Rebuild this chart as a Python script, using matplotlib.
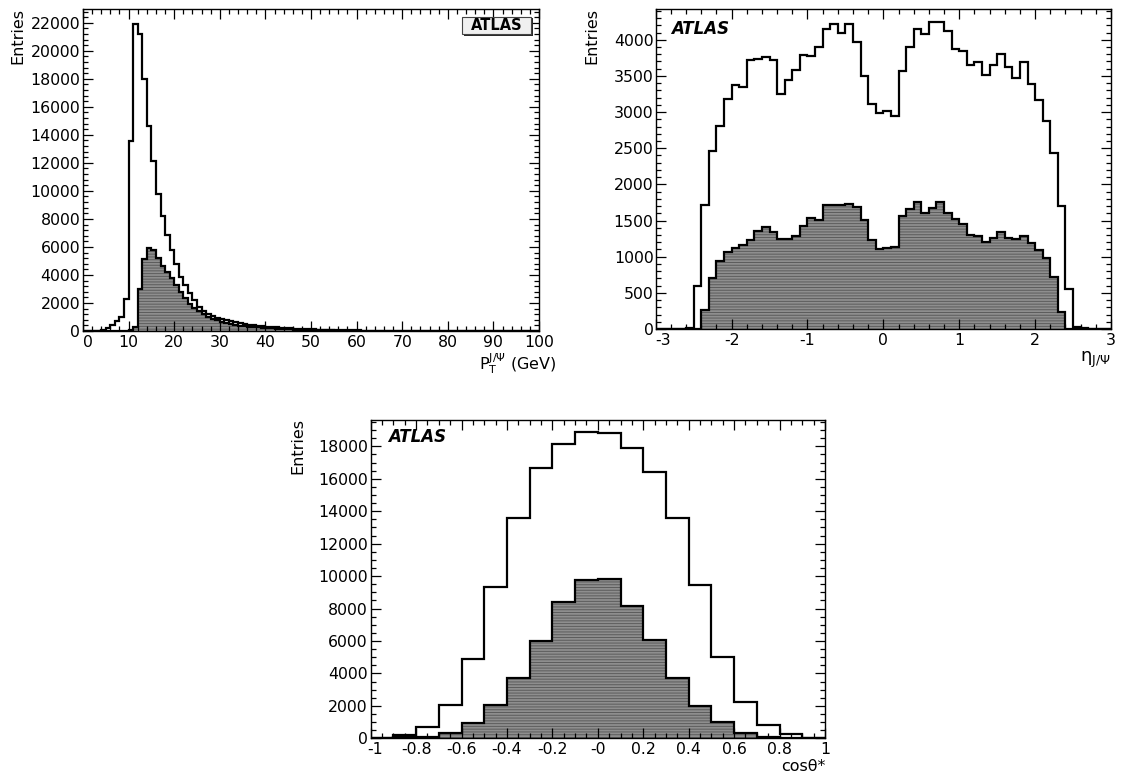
import numpy as np
import matplotlib
matplotlib.use("Agg")
import matplotlib.pyplot as plt
from matplotlib.ticker import MultipleLocator, FixedLocator, FixedFormatter
from matplotlib.patches import Rectangle
from matplotlib.transforms import ScaledTranslation

plt.rcParams['font.family'] = ['DejaVu Sans']
plt.rcParams['mathtext.fontset'] = 'dejavusans'
plt.rcParams['axes.unicode_minus'] = False
plt.rcParams['hatch.linewidth'] = 0.7

# ---------------- data ----------------
# Panel 1: J/psi transverse momentum, 1 GeV bins from 0 to 100
pt_range = (0, 100)
pt_all = [0, 0, 0, 0, 60, 190, 430, 714, 976, 2285,
          13570, 21900, 21230, 18000, 14660, 12140, 9800, 8200, 6850, 5780,
          4800, 3880, 3250, 2740, 2180, 1700, 1450, 1200, 1100, 950,
          850, 760, 680, 610, 550, 500, 450, 410, 370, 340,
          310, 280, 255, 230, 210, 190, 170, 155, 140, 125,
          110, 100, 90, 80, 72, 64, 57, 51, 46, 41,
          37, 33, 30, 27, 24, 22, 20, 18, 16, 14,
          13, 12, 11, 10, 9, 8, 7, 7, 6, 6,
          5, 5, 4, 4, 4, 3, 3, 3, 2, 2,
          2, 2, 2, 1, 1, 1, 1, 1, 1, 1]
pt_sel = [0, 0, 0, 0, 0, 0, 0, 0, 0, 0,
          40, 300, 3000, 5150, 5900, 5800, 5190, 4670, 4200, 3800,
          3250, 2780, 2350, 1950, 1640, 1400, 1180, 1000, 870, 750,
          640, 560, 500, 440, 390, 350, 310, 280, 250, 225,
          200, 180, 160, 145, 130, 115, 100, 90, 80, 72,
          64, 57, 50, 45, 40, 35, 31, 27, 24, 21,
          19, 17, 15, 13, 12, 10, 9, 8, 7, 6,
          5, 5, 4, 4, 3, 3, 3, 2, 2, 2,
          2, 1, 1, 1, 1, 1, 1, 1, 1, 1,
          1, 0, 0, 0, 0, 0, 0, 0, 0, 0]

# Panel 2: J/psi pseudorapidity, 0.1 bins from -3 to 3
eta_range = (-3, 3)
eta_all = [0, 0, 0, 5, 15, 593, 1713, 2468, 2801, 3185,
           3370, 3352, 3722, 3736, 3759, 3722, 3250, 3449, 3579, 3796,
           3782, 3898, 4153, 4222, 4097, 4222, 3968, 3505, 3111, 2982,
           3009, 2949, 3574, 3898, 4144, 4084, 4246, 4250, 4116, 3866,
           3852, 3658, 3699, 3510, 3648, 3806, 3621, 3468, 3695, 3389,
           3172, 2871, 2440, 1699, 551, 23, 10, 0, 0, 0]
eta_sel = [0, 0, 0, 0, 0, 0, 269, 704, 940, 1065,
           1120, 1167, 1227, 1352, 1412, 1343, 1245, 1245, 1292, 1421,
           1532, 1505, 1718, 1718, 1713, 1727, 1694, 1505, 1227, 1111,
           1116, 1134, 1560, 1662, 1750, 1611, 1676, 1750, 1611, 1528,
           1458, 1306, 1287, 1204, 1259, 1347, 1264, 1245, 1282, 1190,
           1097, 982, 718, 232, 0, 0, 0, 0, 0, 0]

# Panel 3: cos(theta*), 0.1 bins from -1 to 1
cos_range = (-1, 1)
cos_all = [30, 205, 720, 2055, 4910, 9350, 13580, 16690, 18130, 18890,
           18820, 17900, 16440, 13560, 9450, 5010, 2220, 800, 247, 0]
cos_sel = [0, 60, 100, 350, 966, 2055, 3700, 6020, 8400, 9780,
           9820, 8160, 6060, 3740, 2010, 986, 350, 100, 40, 0]
cos_ticks = [-1, -0.8, -0.6, -0.4, -0.2, 0, 0.2, 0.4, 0.6, 0.8, 1]
cos_ticklabels = ['-1', '-0.8', '-0.6', '-0.4', '-0.2', '-0', '0.2', '0.4', '0.6', '0.8', '1']

# ---------------- figure ----------------
W, H = 1123, 781
fig = plt.figure(figsize=(W / 100, H / 100), dpi=100)


def axes_px(left, top, right, bottom):
    return fig.add_axes([left / W, 1 - bottom / H, (right - left) / W, (bottom - top) / H])


FS = 11.3
FILL = '#8e8e8e'
HATCH = '#5c5c5c'


def draw(ax, rng, all_vals, sel_vals):
    e1 = np.linspace(rng[0], rng[1], len(all_vals) + 1)
    e2 = np.linspace(rng[0], rng[1], len(sel_vals) + 1)
    ax.stairs(sel_vals, e2, fill=True, facecolor=FILL, edgecolor=HATCH,
              hatch='------', linewidth=0, zorder=1)
    ax.stairs(all_vals, e1, color='black', linewidth=1.6, baseline=0, zorder=2)
    ax.stairs(sel_vals, e2, color='black', linewidth=1.6, baseline=0, zorder=3)


def style(ax, xmaj, xmin, ymaj, ymin, ypad=2.0):
    ax.xaxis.set_major_locator(MultipleLocator(xmaj))
    ax.xaxis.set_minor_locator(MultipleLocator(xmin))
    ax.yaxis.set_major_locator(MultipleLocator(ymaj))
    ax.yaxis.set_minor_locator(MultipleLocator(ymin))
    ax.tick_params(which='both', direction='in', top=True, right=True,
                   width=0.9, labelsize=FS)
    ax.tick_params(which='major', length=7.5)
    ax.tick_params(which='minor', length=3.8)
    ax.tick_params(axis='y', pad=ypad)
    ax.tick_params(axis='x', pad=3.0)
    for s in ax.spines.values():
        s.set_linewidth(1.0)


def nudge_first_xlabel(ax, dx_px):
    locs = np.asarray(ax.xaxis.get_majorticklocs())
    idx = int(np.argmin(np.abs(locs - ax.get_xlim()[0])))
    t = ax.xaxis.get_major_ticks()[idx].label1
    t.set_transform(t.get_transform() + ScaledTranslation(dx_px / 100, 0, fig.dpi_scale_trans))


# Panel 1
ax1 = axes_px(83, 9, 539, 331)
draw(ax1, pt_range, pt_all, pt_sel)
ax1.set_xlim(*pt_range)
ax1.set_ylim(0, 22980)
style(ax1, 10, 2, 2000, 400)
nudge_first_xlabel(ax1, 5)
fig.text(18.3 / W, 1 - 8.5 / H, 'Entries', rotation=90, ha='center', va='top', fontsize=11.5)
fig.text(557 / W, 1 - 369 / H, r'$\mathrm{P}_{\mathrm{T}}^{\mathrm{J/\Psi}}$ (GeV)',
         ha='right', va='baseline', fontsize=11.5)
# ATLAS box (top right)
bx0, by0, bx1, by1 = 461.5, 16.5, 531, 34
fig.add_artist(Rectangle((bx0 / W + 2 / W, 1 - by1 / H - 2 / H), (bx1 - bx0) / W, (by1 - by0) / H,
                         transform=fig.transFigure, facecolor='#2a2a2a', edgecolor='none', zorder=5))
fig.add_artist(Rectangle((bx0 / W, 1 - by1 / H), (bx1 - bx0) / W, (by1 - by0) / H,
                         transform=fig.transFigure, facecolor='#f0f0f0', edgecolor='#444444',
                         linewidth=0.8, zorder=6))
fig.text((bx0 + bx1) / 2 / W, 1 - (by0 + by1) / 2 / H, 'ATLAS', ha='center', va='center',
         fontsize=10.5, fontweight='bold', zorder=7)

# Panel 2
ax2 = axes_px(655.7, 9, 1111, 329)
draw(ax2, eta_range, eta_all, eta_sel)
ax2.set_xlim(*eta_range)
ax2.set_ylim(0, 4426)
style(ax2, 1, 0.2, 500, 100, ypad=1.5)
nudge_first_xlabel(ax2, 7)
fig.text(592 / W, 1 - 8.5 / H, 'Entries', rotation=90, ha='center', va='top', fontsize=11.5)
fig.text(1111 / W, 1 - 362 / H, '\u03b7' + r'$_{\mathrm{J/\Psi}}$', ha='right', va='baseline',
         fontsize=13)
ax2.text(671.5 / W, 1 - 29 / H, 'ATLAS', transform=fig.transFigure, ha='left', va='center',
         fontsize=12, fontweight='bold', fontstyle='italic')

# Panel 3
ax3 = axes_px(370.7, 420, 825, 738.3)
draw(ax3, cos_range, cos_all, cos_sel)
ax3.set_xlim(*cos_range)
ax3.set_ylim(0, 19620)
style(ax3, 0.2, 0.05, 2000, 500)
ax3.xaxis.set_major_locator(FixedLocator(cos_ticks))
ax3.xaxis.set_major_formatter(FixedFormatter(cos_ticklabels))
nudge_first_xlabel(ax3, 4)
fig.text(297.5 / W, 1 - 418.5 / H, 'Entries', rotation=90, ha='center', va='top', fontsize=11.5)
fig.text(825 / W, 1 - 771 / H, 'cos\u03b8*', ha='right', va='baseline', fontsize=11.5)
ax3.text(388 / W, 1 - 436.5 / H, 'ATLAS', transform=fig.transFigure, ha='left', va='center',
         fontsize=12, fontweight='bold', fontstyle='italic')

fig.savefig('out.png', dpi=100)
